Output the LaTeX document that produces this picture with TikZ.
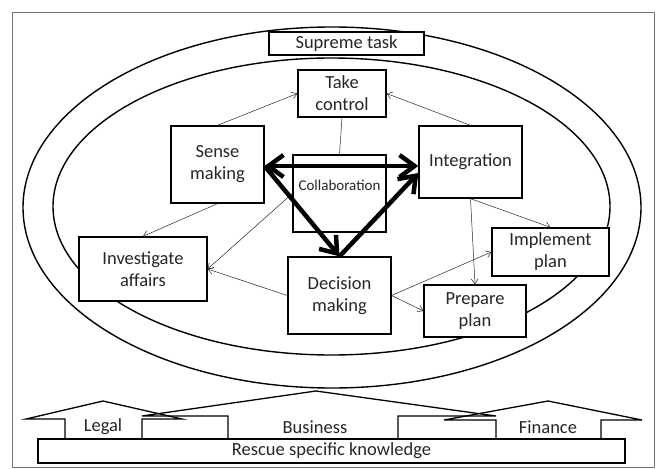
\documentclass[tikz,border=0pt]{standalone}
\usepackage{fontspec}
\setmainfont{Carlito}
\usetikzlibrary{arrows.meta,calc}
\begin{document}
\begin{tikzpicture}[x=1pt,y=-1pt,
  box/.style={draw=black, line width=1.3pt, fill=white, align=center, inner sep=0pt,
    text=black!85, font=\fontsize{18.5}{22}\selectfont},
  lbl/.style={text=black!85, font=\fontsize{18.5}{22}\selectfont, inner sep=0pt},
  thinarrow/.style={draw=black!85, line width=0.5pt, -{Straight Barb[length=5pt,width=7pt]}},
  thinline/.style={draw=black!85, line width=0.5pt},
  thickarrow/.style={line width=4.5pt, -{Straight Barb[length=15pt,width=22pt]}},
  ring/.style={line width=1.4pt},
  blockarrow/.style={line width=1.3pt, line join=miter}]
\useasboundingbox (0,0) rectangle (660,468);
% frame
\draw[draw=black!55, line width=0.9pt] (12,12) rectangle (654,467);
% ellipses
\draw[ring] (332,207.5) ellipse [x radius=309pt, y radius=180.5pt];
\draw[ring] (331.5,206.5) ellipse [x radius=278.5pt, y radius=148.5pt];
% boxes
\node[box, minimum width=155pt, minimum height=23pt] (supreme) at (346.5,43.5) {Supreme task};
\node[box, minimum width=88pt, minimum height=47pt] (take) at (342,93.5) {Take\\control};
\node[box, minimum width=93pt, minimum height=77pt] (sense) at (217.5,164.5) {Sense\\making};
\node[box, minimum width=103pt, minimum height=72pt] (integ) at (470.5,162) {Integration};
\node[box, minimum width=93pt, minimum height=77pt] (collab) at (339.5,193.5) {};
\node[lbl, font=\fontsize{15}{18}\selectfont] (collabtext) at (339.5,185) {Collaboration};
\node[box, minimum width=103pt, minimum height=77pt] (decision) at (339.5,295.5) {Decision\\making};
\node[box, minimum width=128pt, minimum height=64pt] (invest) at (143,269) {Investigate\\affairs};
\node[box, minimum width=117pt, minimum height=48pt] (implement) at (550.5,252) {Implement\\plan};
\node[box, minimum width=102pt, minimum height=52pt] (prepare) at (475,311) {Prepare\\plan};
% thin connectors
\draw[thinarrow] (sense.north) -- (take.west);
\draw[thinarrow] (integ.north) -- (take.east);
\draw[thinline] (take.south) -- (collab.north);
\draw[thinarrow] (sense.south) -- (invest.north);
\draw[thinarrow] (collab.west) -- (invest.east);
\draw[thinarrow] (decision.west) -- (invest.east);
\draw[thinarrow] (integ.south) -- (implement.north);
\draw[thinarrow] (integ.south) -- (prepare.north);
\draw[thinarrow] (decision.east) -- (implement.west);
\draw[thinarrow] (decision.east) -- (prepare.west);
% thick connectors
\coordinate (sA) at ($(sense.east)+(0,1.5)$);
\coordinate (iA) at ($(integ.west)+(0,4)$);
\coordinate (iC) at ($(integ.west)+(0,11)$);
\draw[thickarrow, {Straight Barb[length=15pt,width=22pt]}-{Straight Barb[length=15pt,width=22pt]}] (sA) -- (iA);
\draw[thickarrow] (sA) -- (decision.north);
\draw[thickarrow] (decision.north) -- (iC);
% bottom block arrows
\draw[blockarrow] (65,439) -- (65,419) -- (26,419) -- (103,401) -- (182,419) -- (142,419) -- (142,439);
\draw[blockarrow] (228,439) -- (228,416) -- (142,416) -- (316,391) -- (496,416) -- (398,416) -- (398,439);
\draw[blockarrow] (496,439) -- (496,420) -- (444,420) -- (548,401) -- (642,420) -- (601,420) -- (601,439);
\node[lbl] (legal) at (103,427) {Legal};
\node[lbl] (business) at (315,427) {Business};
\node[lbl] (finance) at (548,427) {Finance};
\node[box, minimum width=587pt, minimum height=24pt] (rescue) at (331.5,451) {Rescue specific knowledge};
\end{tikzpicture}
\end{document}
